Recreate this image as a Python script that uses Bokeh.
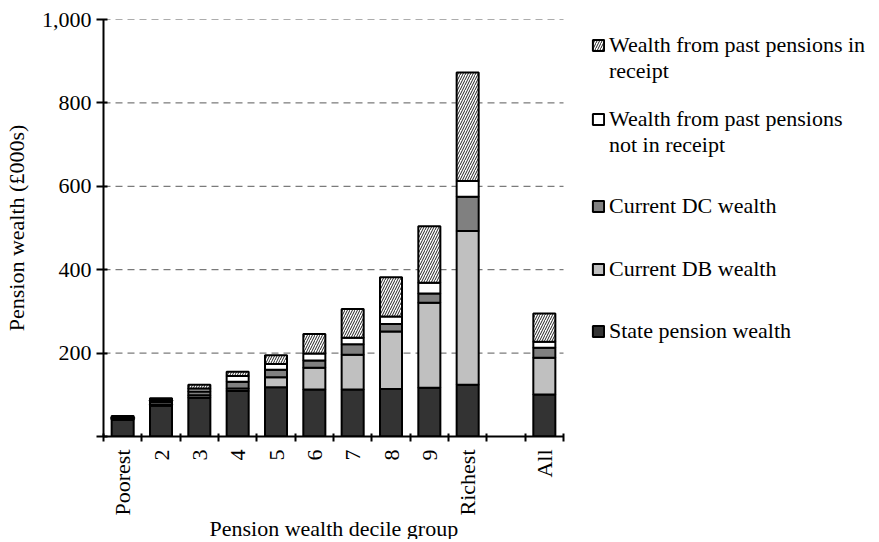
import math
from bokeh.plotting import figure
from bokeh.models import FixedTicker, NumeralTickFormatter, Legend, LegendItem, Range1d, Title
from bokeh.embed import file_html
from bokeh.resources import INLINE

# ---- data (values in £000s) ----
categories = ["Poorest", "2", "3", "4", "5", "6", "7", "8", "9", "Richest", "", "All"]
groups = ["Poorest", "2", "3", "4", "5", "6", "7", "8", "9", "Richest", "All"]
state_pension = [40, 74, 93, 109, 118, 113, 113, 114, 117, 124, 101]
current_db = [1, 3, 6, 6, 24, 52, 83, 138, 204, 369, 88]
current_dc = [3, 6, 9, 16, 18, 17, 25, 18, 22, 82, 24]
past_not_in_receipt = [2, 4, 7, 14, 14, 17, 16, 18, 26, 38, 14]
past_in_receipt = [3, 5, 9, 10, 21, 47, 69, 94, 135, 260, 68]
y_ticks = [0, 200, 400, 600, 800, 1000]

series_names = [
    ["State pension wealth"],
    ["Current DB wealth"],
    ["Current DC wealth"],
    ["Wealth from past pensions", "not in receipt"],
    ["Wealth from past pensions in", "receipt"],
]
x_title = "Pension wealth decile group"
y_title = "Pension wealth (£000s)"

FONT = "Liberation Serif"
FS = "22px"

n_slots = len(categories)
x = [categories.index(g) + 0.5 for g in groups]

PLOT_W = 460      # width of the bar area (px)
LEGEND_W = 302    # extra width to the right, holding the legend
frame_w = PLOT_W + LEGEND_W
x_end = n_slots * frame_w / PLOT_W

p = figure(frame_width=frame_w, frame_height=417,
           x_range=Range1d(0, x_end), y_range=Range1d(0, 1000),
           output_backend="svg", toolbar_location=None,
           min_border_left=103, min_border_top=19, min_border_right=0, min_border_bottom=0)

# dashed horizontal gridlines limited to the bar area
grid_y = y_ticks[1:]
p.segment(x0=[0] * len(grid_y), x1=[n_slots] * len(grid_y), y0=grid_y, y1=grid_y,
          line_color="#5a5a5a", line_dash="7 5", line_width=1)

styles = [
    (state_pension, "#333333", None),
    (current_db, "#c0c0c0", None),
    (current_dc, "#808080", None),
    (past_not_in_receipt, "#ffffff", None),
    (past_in_receipt, "#ffffff", "/"),
]

# invisible renderer used for the second line of two-line legend entries
blank = p.vbar(x=[], top=[], width=0.5, fill_alpha=0, line_alpha=0)

bottom = [0] * len(groups)
renderers = []
for vals, color, hatch in styles:
    top = [b + v for b, v in zip(bottom, vals)]
    kw = {}
    if hatch:
        kw = dict(hatch_pattern=hatch, hatch_scale=5, hatch_color="#222222", hatch_weight=1)
    r = p.vbar(x=x, bottom=bottom, top=top, width=0.575, fill_color=color,
               line_color="black", line_width=2, **kw)
    renderers.append(r)
    bottom = top

# legend blocks: (series index, offset from frame left, offset of block bottom above frame bottom)
legend_blocks = [(4, 488, 352), (3, 488, 278), (2, 488, 217), (1, 488, 154), (0, 488, 92)]
for idx, dx, dy in legend_blocks:
    lines = series_names[idx]
    its = [LegendItem(label=lines[0], renderers=[renderers[idx]])]
    for extra in lines[1:]:
        its.append(LegendItem(label=extra, renderers=[blank]))
    lg = Legend(items=its, location=(dx, dy))
    lg.label_text_font = FONT
    lg.label_text_font_size = FS
    lg.label_text_color = "black"
    lg.label_text_line_height = 0.85
    lg.label_height = 22
    lg.glyph_width = 14
    lg.glyph_height = 14
    lg.label_standoff = 4
    lg.spacing = -4
    lg.padding = 0
    lg.margin = 0
    lg.border_line_color = None
    lg.background_fill_alpha = 0
    p.add_layout(lg)

# x axis
xa = p.xaxis[0]
xa.bounds = (0, n_slots)
xa.ticker = FixedTicker(ticks=[i + 0.5 for i in range(n_slots)],
                        minor_ticks=list(range(n_slots + 1)))
xa.major_label_overrides = {i + 0.5: c for i, c in enumerate(categories)}
xa.major_label_orientation = math.pi / 2
xa.major_tick_line_color = None
xa.major_tick_out = 0
xa.major_tick_in = 0
xa.minor_tick_line_color = "black"
xa.minor_tick_line_width = 2
xa.minor_tick_out = 5
xa.minor_tick_in = 3
xa.axis_line_width = 2
xa.axis_line_color = "black"
xa.major_label_standoff = 8
xa.major_label_text_font = FONT
xa.major_label_text_font_size = FS
xa.major_label_text_color = "black"

# x-axis title, placed under the bar area (not under the legend)
xt = Title(text=x_title, align="left", offset=106, vertical_align="top", standoff=-6)
xt.text_font = FONT
xt.text_font_size = FS
xt.text_font_style = "normal"
xt.text_color = "black"
p.add_layout(xt, "below")

# y axis
ya = p.yaxis[0]
ya.ticker = FixedTicker(ticks=y_ticks)
ya.formatter = NumeralTickFormatter(format="0,0")
ya.major_label_overrides = {0: ""}
ya.minor_tick_line_color = None
ya.major_tick_out = 7
ya.major_tick_in = 4
ya.major_tick_line_width = 2
ya.major_tick_line_color = "black"
ya.axis_line_width = 2
ya.axis_line_color = "black"
ya.major_label_standoff = 5
ya.major_label_text_font = FONT
ya.major_label_text_font_size = FS
ya.major_label_text_color = "black"
ya.axis_label = y_title
ya.axis_label_text_font = FONT
ya.axis_label_text_font_size = FS
ya.axis_label_text_font_style = "normal"
ya.axis_label_text_color = "black"
ya.axis_label_standoff = 10

p.xgrid.visible = False
p.ygrid.visible = False
p.outline_line_color = None

open("out.html", "w").write(file_html(p, INLINE))
